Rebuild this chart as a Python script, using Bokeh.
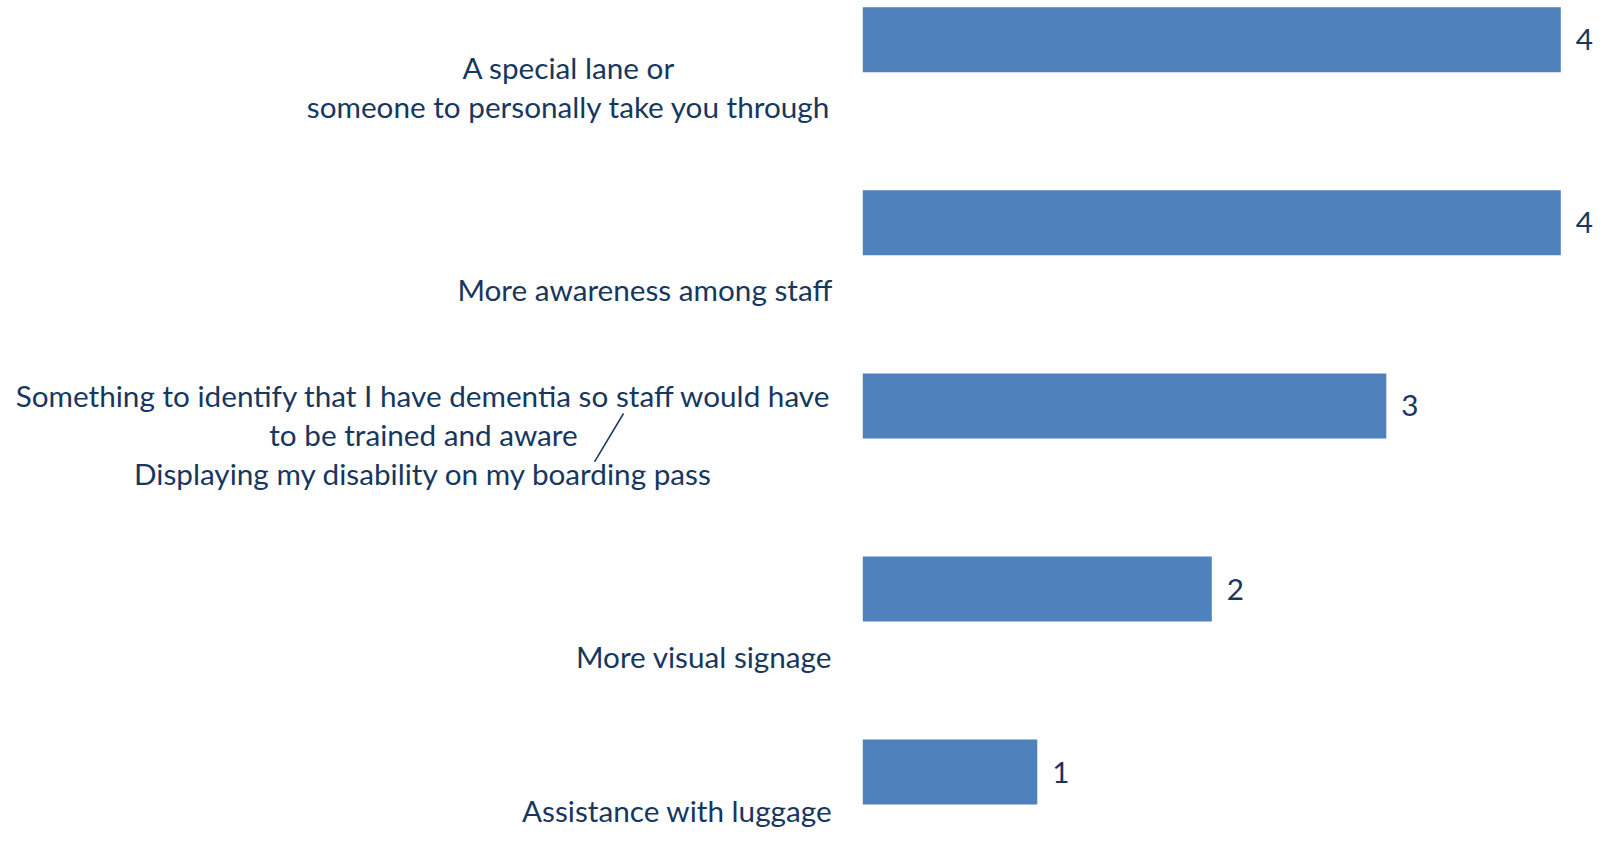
from bokeh.plotting import figure
from bokeh.models import Range1d, ColumnDataSource
from bokeh.core.properties import value
from bokeh.embed import file_html
from bokeh.resources import INLINE

# ---- data ----
categories = [
    "A special lane or\nsomeone to personally take you through",
    "More awareness among staff",
    "Something to identify that I have dementia so staff would have\nto be trained and aware\nDisplaying my disability on my boarding pass",
    "More visual signage",
    "Assistance with luggage",
]
counts = [4, 4, 3, 2, 1]
value_labels = ["4", "4", "3", "2", "1"]

# ---- layout constants (pixels) ----
W, H = 1594, 843
PX_PER_UNIT_X = 174.5
PX_PER_CAT = 183.1
BAR_ZERO_PX = 862.3      # frame x of value 0
FIRST_CAT_PX = 39.2      # frame y of first category centre

TEXT_COLOR = "#17375E"
BAR_COLOR = "#4F81BD"
FONT = "Lato"
FS = "29.7px"

x_start = -BAR_ZERO_PX / PX_PER_UNIT_X
x_end = (W - BAR_ZERO_PX) / PX_PER_UNIT_X
y_top = -FIRST_CAT_PX / PX_PER_CAT
y_bottom = (H - FIRST_CAT_PX) / PX_PER_CAT

p = figure(width=W, height=H,
           x_range=Range1d(x_start, x_end),
           y_range=Range1d(y_bottom, y_top),
           output_backend="svg", toolbar_location=None, min_border=0)
p.axis.visible = False
p.grid.visible = False
p.outline_line_color = None
p.background_fill_color = "white"
p.border_fill_color = "white"

pos = list(range(len(categories)))
src = ColumnDataSource(dict(y=pos, right=counts, lab=value_labels,
                            lx=[c + 0.085 for c in counts]))
p.hbar(y="y", left=0, right="right", height=65 / PX_PER_CAT, source=src,
       fill_color=BAR_COLOR, line_color=None)
p.text(x="lx", y="y", text="lab", source=src, text_font=value(FONT),
       text_font_size=FS, text_color=TEXT_COLOR, text_align="left",
       text_baseline="middle")

# category label placement: per-category line offsets (px, relative to bar centre)
line_offsets_px = [[27.6, 66.6], [66.3], [-10.0, 29.0, 68.0], [67.7], [38.6]]
block_center_px = [568.3, None, 423.0, None, None]   # frame x of centred blocks
RIGHT_EDGE_PX = 831.7

xs, ys, texts, aligns = [], [], [], []
for i, cat in enumerate(categories):
    lines = cat.split("\n")
    for ln, off in zip(lines, line_offsets_px[i]):
        if block_center_px[i] is None:
            xs.append((RIGHT_EDGE_PX - BAR_ZERO_PX) / PX_PER_UNIT_X)
            aligns.append("right")
        else:
            xs.append((block_center_px[i] - BAR_ZERO_PX) / PX_PER_UNIT_X)
            aligns.append("center")
        ys.append(pos[i] + off / PX_PER_CAT)
        texts.append(ln)

lsrc = ColumnDataSource(dict(x=xs, y=ys, t=texts, a=aligns))
p.text(x="x", y="y", text="t", source=lsrc, text_font=value(FONT),
       text_font_size=FS, text_color=TEXT_COLOR, text_align="a",
       text_baseline="middle")

# leader line in the third label
lx0 = (623 - BAR_ZERO_PX) / PX_PER_UNIT_X
lx1 = (594 - BAR_ZERO_PX) / PX_PER_UNIT_X
ly0 = pos[2] + 7.6 / PX_PER_CAT
ly1 = pos[2] + 56.0 / PX_PER_CAT
p.segment(x0=[lx0], y0=[ly0], x1=[lx1], y1=[ly1], line_color=TEXT_COLOR,
          line_width=1.5)

open("out.html", "w").write(file_html(p, INLINE))
